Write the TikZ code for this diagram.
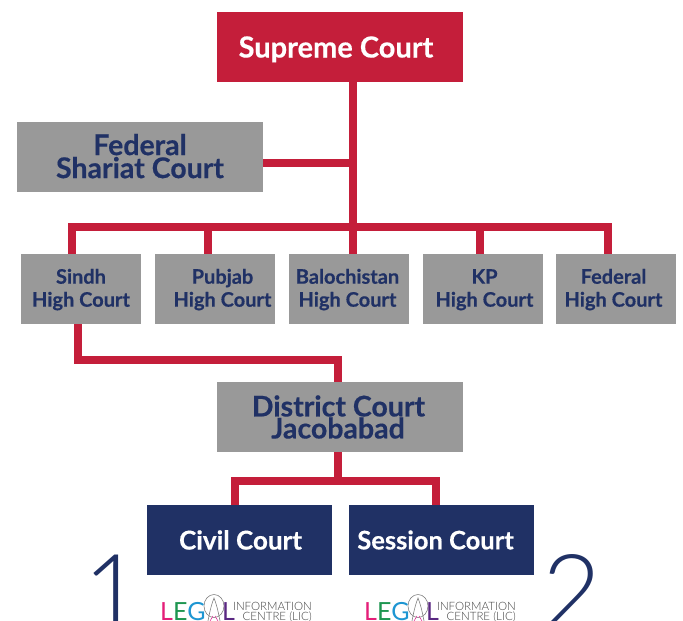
\documentclass[tikz,border=0pt]{standalone}
\usepackage{fontspec}
\setmainfont{Lato}[BoldFeatures={FakeBold=0.4}]
\newfontfamily\thinfont{Lato}[UprightFont={* Light}]
\definecolor{crimson}{RGB}{196,30,58}
\definecolor{navy}{RGB}{32,49,101}
\definecolor{greybox}{RGB}{153,153,153}
\newcommand{\pushdown}[1]{\rule{0pt}{#1}}
\newcommand{\pushup}[1]{\rule[-#1]{0pt}{#1}}
\tikzset{
  x=1pt,y=-1pt,
  box/.style={inner sep=0pt,align=center,font=\bfseries,text=navy,fill=greybox},
  wide/.style={box,minimum width=246pt,minimum height=70pt},
  small/.style={box,minimum width=120pt,minimum height=70pt,font=\bfseries\fontsize{20}{23}\selectfont},
  dark/.style={box,fill=navy,text=white,minimum width=185pt,minimum height=70pt,font=\bfseries\fontsize{25.5}{26}\selectfont},
  link/.style={draw=crimson,line width=8pt,line cap=butt,line join=miter},
  numeral/.style={text=navy,inner sep=0pt,font=\thinfont\fontsize{102}{102}\selectfont},
  logotext/.style={inner sep=0pt,font=\fontsize{25}{25}\selectfont},
  logosub/.style={inner sep=0pt,align=right,text=black!75,font=\thinfont\fontsize{11.5}{10.5}\selectfont},
}
\begin{document}
\begin{tikzpicture}
\useasboundingbox (0,0) rectangle (683,621);
\clip (0,0) rectangle (683,621);
\node[wide,fill=crimson,text=white,text height=21pt,text depth=0pt,font=\bfseries\fontsize{29}{29}\selectfont] (sup) at (340,47) {\hspace*{-8pt}Supreme Court};
\node[wide,font=\bfseries\fontsize{28.5}{23}\selectfont] (sha) at (140,157) {Federal\\Shariat Court\pushup{2pt}};
\node[small] (sin) at (81,289) {\pushdown{16pt}Sindh\\High Court};
\node[small] (pun) at (215,289) {\pushdown{16pt}\hspace*{15pt}Pubjab\\\hspace*{15pt}High Court};
\node[small] (bal) at (349,289) {\pushdown{16pt}\hspace*{-3pt}Balochistan\\\hspace*{-3pt}High Court};
\node[small] (kp) at (483,289) {\pushdown{16pt}\hspace*{3pt}KP\\\hspace*{3pt}High Court};
\node[small] (fed) at (616,289) {\pushdown{16pt}\hspace*{-5pt}Federal\\\hspace*{-5pt}High Court};
\node[wide,font=\bfseries\fontsize{28.5}{22}\selectfont] (dis) at (340,417) {\hspace*{-3pt}District Court\\\hspace*{-4pt}Jacobabad};
\node[dark,font=\bfseries\fontsize{26}{26}\selectfont] (civ) at (239.5,540) {\hspace*{2pt}Civil Court};
\node[dark] (ses) at (441.5,540) {\hspace*{-12pt}Session Court};
\coordinate (busL) at (68,227);
\coordinate (busR) at (612,227);
\draw[link] ([xshift=13pt]sup.south) -- ([xshift=4pt]bal.north);
\draw[link] (sha.east |- 0,163) -- (353,163);
\draw[link] (busL) -- (busR);
\draw[link] ([xshift=-9pt]sin.north) |- (busL);
\draw[link] ([xshift=-7pt]pun.north) |- (busL);
\draw[link] ([xshift=-3pt]kp.north) |- (busR);
\draw[link] ([xshift=-8pt]fed.north) |- (busR);
\draw[link] ([xshift=-3pt]sin.south) |- (338,360) -- ([xshift=-2pt]dis.north);
\draw[link] ([xshift=-2pt]dis.south) -- (338,481);
\draw[link] ([xshift=-4.5pt]civ.north) |- (436,481) -- ([xshift=-5.5pt]ses.north);
\node[numeral,anchor=base] (one) at (113,627) {1};
\node[numeral,anchor=base] (two) at (572,627) {2};
\foreach \n/\x in {a/160,b/364}{
  \node[logotext,anchor=base west] (\n L) at (\x,620) {\textcolor[RGB]{228,30,120}{L}\textcolor[RGB]{30,150,80}{E}\textcolor[RGB]{30,150,210}{G}};
  \draw[black!50,line width=0.6pt] (\x+54,606) ellipse[x radius=10pt,y radius=11.5pt];
  \draw[black!50,line width=0.6pt] (\x+48,621) .. controls (\x+50,610) and (\x+52,603) .. (\x+54,598) .. controls (\x+56,603) and (\x+58,610) .. (\x+60,621);
  \draw[crimson!60!magenta,line width=0.5pt] (\x+50,621) -- (\x+53,616) (\x+58,621) -- (\x+55,616);
  \node[logotext,anchor=base west,text={rgb,255:red,90;green,40;blue,130}] (\n E) at (\x+62,620) {L};
  \node[logosub,anchor=north east] (\n S) at (\x+152,602) {INFORMATION\\CENTRE (LIC)};
}
\end{tikzpicture}
\end{document}
